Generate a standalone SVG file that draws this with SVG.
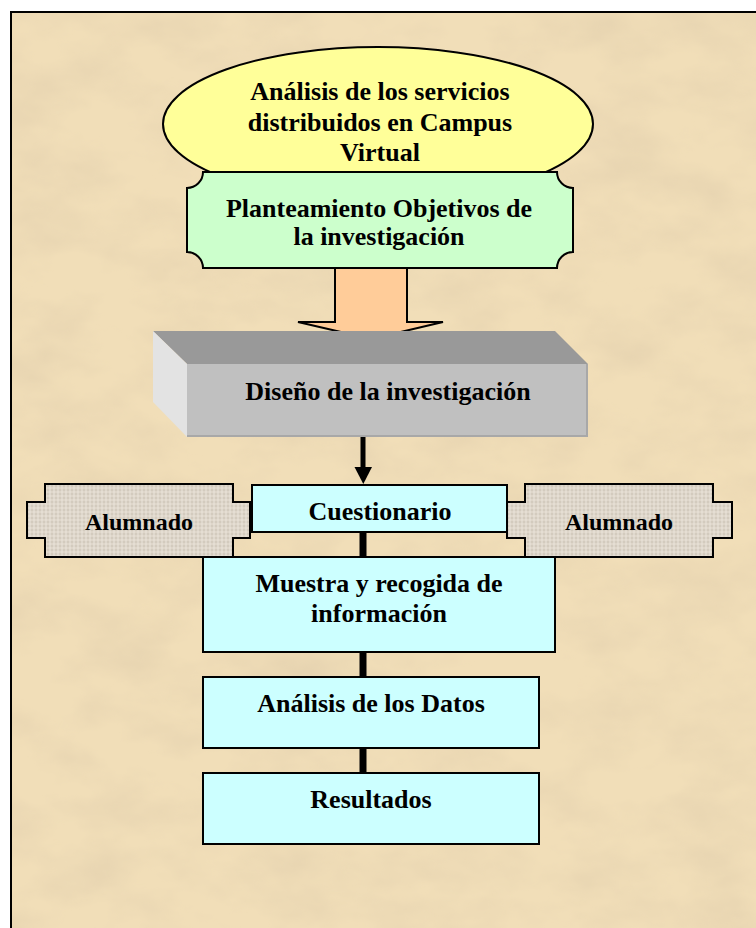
<svg xmlns="http://www.w3.org/2000/svg" width="756" height="928" viewBox="0 0 756 928">
<style>
  text { font-family: "Liberation Serif", "Times New Roman", serif; font-weight: bold; fill: #000; text-anchor: middle; }
  .t26 { font-size: 26px; }
  .t24 { font-size: 24px; }
  .box { fill: #CCFFFF; stroke: #000; stroke-width: 2; }
  .link { stroke: #000; stroke-width: 7; fill: none; }
</style>
<defs>
  <filter id="paper" x="0" y="0" width="1" height="1">
    <feTurbulence type="fractalNoise" baseFrequency="0.012 0.02" numOctaves="4" seed="7" result="n"/>
    <feColorMatrix in="n" type="matrix" values="0 0 0 0 0.80  0 0 0 0 0.66  0 0 0 0 0.44  1.9 0 0 0 -0.72" result="c"/>
    <feComposite in="c" in2="SourceAlpha" operator="in"/>
  </filter>
  <pattern id="weave" width="8" height="8" patternUnits="userSpaceOnUse">
    <rect width="8" height="8" fill="#DED6CA"/>
    <path d="M0 2H8M0 6H8" stroke="#C9C0B3" stroke-width="1"/>
    <path d="M2 0V8M6 0V8" stroke="#ECE6DD" stroke-width="1"/>
  </pattern>
</defs>

<rect x="0" y="0" width="756" height="928" fill="#FFFFFF"/>
<g id="background">
  <rect x="11" y="12" width="750" height="920" fill="#F1DEB8"/>
  <rect x="11" y="12" width="750" height="920" fill="#000" filter="url(#paper)"/>
  <path d="M11 932V12H760" fill="none" stroke="#000" stroke-width="2"/>
</g>

<g id="connectors">
  <path d="M335 268V322H298L371 339L443 322H407V268Z" fill="#FFCC99" stroke="#000" stroke-width="2"/>
  <line x1="363" y1="437" x2="363" y2="468" stroke="#000" stroke-width="5"/>
  <polygon points="354.5,467 372,467 363.3,484" fill="#000"/>
  <line class="link" x1="363" y1="532" x2="363" y2="557"/>
  <line class="link" x1="363" y1="652" x2="363" y2="677"/>
  <line class="link" x1="363" y1="748" x2="363" y2="773"/>
</g>

<g id="n-analisis-servicios">
  <ellipse cx="378" cy="124" rx="215" ry="77" fill="#FFFF99" stroke="#000" stroke-width="2"/>
  <text class="t26" x="380" y="100">Análisis de los servicios</text>
  <text class="t26" x="380" y="130.5">distribuidos en Campus</text>
  <text class="t26" x="380" y="161">Virtual</text>
</g>

<g id="n-planteamiento">
  <path d="M203 172H557A16 16 0 0 0 573 188V252A16 16 0 0 0 557 268H203A16 16 0 0 0 187 252V188A16 16 0 0 0 203 172Z" fill="#CCFFCC" stroke="#000" stroke-width="2"/>
  <text class="t26" x="379" y="216.5">Planteamiento Objetivos de</text>
  <text class="t26" x="379" y="244.5">la investigación</text>
</g>

<g id="n-diseno">
  <polygon points="153,331 555,331 588,364 187,364" fill="#999999"/>
  <polygon points="153,331 187,364 187,437 153,402" fill="#E3E3E3"/>
  <rect x="187" y="364" width="401" height="73" fill="#C0C0C0"/>
  <path d="M187 436H588M587 364V437" stroke="#A8A8A8" stroke-width="2" fill="none"/>
  <text class="t26" x="388" y="400">Diseño de la investigación</text>
</g>

<g id="n-alumnado-izq">
  <path d="M45 484H233V502H250V538H233V557H45V538H27V502H45Z" fill="url(#weave)" stroke="#000" stroke-width="2"/>
  <text class="t24" x="139" y="530">Alumnado</text>
</g>

<g id="n-alumnado-der">
  <path d="M525 484H713V502H732V538H713V557H525V538H507V502H525Z" fill="url(#weave)" stroke="#000" stroke-width="2"/>
  <text class="t24" x="619" y="530">Alumnado</text>
</g>

<g id="n-cuestionario">
  <rect class="box" x="252" y="485" width="255" height="47"/>
  <text class="t26" x="380" y="520">Cuestionario</text>
</g>

<g id="n-muestra">
  <rect class="box" x="203" y="557" width="352" height="95"/>
  <text class="t26" x="379" y="592">Muestra y recogida de</text>
  <text class="t26" x="379" y="622">información</text>
</g>

<g id="n-analisis-datos">
  <rect class="box" x="203" y="677" width="336" height="71"/>
  <text class="t26" x="371" y="712">Análisis de los Datos</text>
</g>

<g id="n-resultados">
  <rect class="box" x="203" y="773" width="336" height="71"/>
  <text class="t26" x="371" y="808">Resultados</text>
</g>
</svg>
